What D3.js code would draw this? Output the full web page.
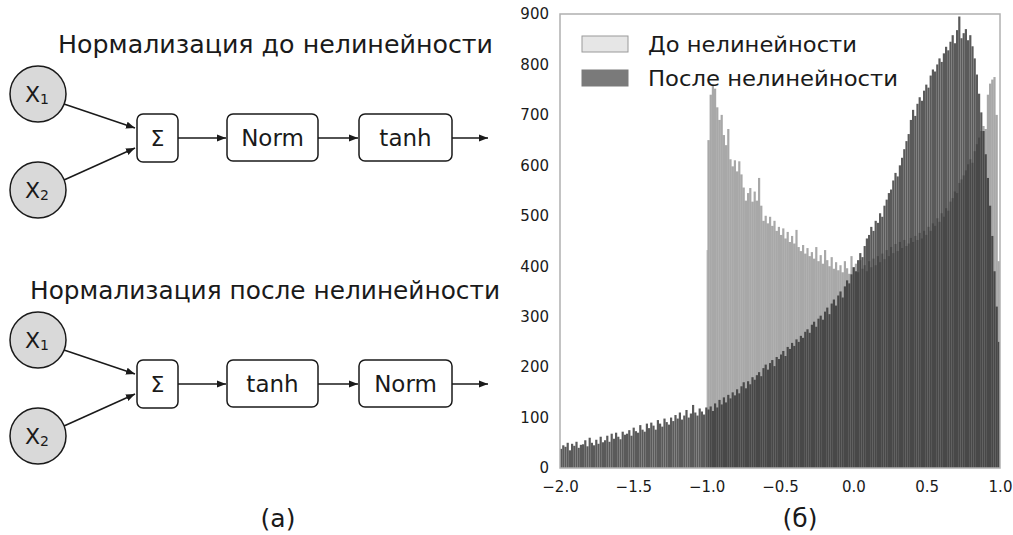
<!DOCTYPE html>
<html>
<head>
<meta charset="utf-8">
<script src="https://cdn.jsdelivr.net/npm/d3@7.9.0/dist/d3.min.js"></script>
<style>
  body { margin: 0; background: #fff; }
  svg { display: block; }
  text { font-family: "DejaVu Sans", sans-serif; fill: #1a1a1a; }
</style>
</head>
<body>
<svg id="chart" width="1013" height="535"></svg>
<script>
// histogram bins: width 0.015 from -2.0 to 1.0 (200 bins)
const binWidth = 0.015;
const binStart = -2.0;
const beforeFirstBin = 66; // "before" series starts at -1.0

// после нелинейности (dark), 200 bins
const afterCounts = [
  38, 45, 42, 50, 35, 48, 44, 52, 40, 46,
  47, 55, 43, 60, 50, 45, 56, 48, 62, 51,
  55, 64, 52, 68, 58, 70, 62, 57, 72, 66,
  68, 75, 64, 80, 73, 70, 85, 76, 72, 88,
  79, 90, 84, 76, 95, 88, 82, 98, 91, 86,
  100, 93, 105, 98, 110, 96, 104, 115, 100, 108,
  125, 110, 104, 118, 112, 106, 120, 116, 122, 113,
  128, 120, 135, 126, 140, 130, 145, 138, 150, 144,
  156, 148, 162, 170, 158, 172, 166, 180, 175, 184,
  190, 182, 198, 205, 195, 208, 214, 202, 220, 216,
  225, 232, 222, 240, 236, 248, 242, 255, 250, 262,
  258, 270, 275, 268, 284, 290, 280, 296, 302, 294,
  310, 318, 305, 326, 334, 322, 342, 350, 338, 360,
  372, 366, 384, 398, 390, 412, 426, 418, 440, 455,
  462, 478, 470, 490, 486, 505, 498, 520, 532, 545,
  552, 570, 585, 578, 600, 615, 632, 648, 662, 690,
  710, 698, 722, 735, 728, 748, 760, 754, 778, 790,
  786, 800, 812, 805, 822, 835, 828, 845, 858, 842,
  868, 895, 852, 862, 870, 848, 858, 836, 812, 780,
  742, 705, 668, 622, 575, 520, 460, 390, 320, 250
];

// до нелинейности (light), bins 66..199
const beforeCounts = [
  432, 650, 740, 760, 752, 715, 690, 700, 660, 640,
  672, 612, 598, 610, 588, 608, 582, 556, 530, 545,
  555, 528, 548, 530, 575, 520, 490, 500, 485, 498,
  480, 490, 470, 478, 462, 475, 455, 468, 448, 460,
  445, 472, 438, 430, 442, 425, 436, 420, 428, 415,
  438, 410, 422, 405, 432, 412, 400, 418, 395, 408,
  392, 402, 388, 410, 396, 385, 420, 398, 405, 388,
  412, 395, 402, 390, 410, 398, 415, 402, 420, 408,
  425, 414, 432, 420, 438, 426, 444, 430, 448, 436,
  452, 440, 445, 456, 448, 460, 452, 466, 455, 470,
  462, 478, 470, 485, 480, 495, 488, 505, 498, 515,
  510, 528, 535, 548, 545, 565, 572, 580, 590, 602,
  612, 605, 628, 642, 655, 668, 678, 672, 740, 762,
  770, 775, 700, 410
];

const xTicks = [-2.0, -1.5, -1.0, -0.5, 0.0, 0.5, 1.0];
const yTicks = [0, 100, 200, 300, 400, 500, 600, 700, 800, 900];
const legendLabels = ["До нелинейности", "После нелинейности"];
const legendWidths = [209, 250];

const svg = d3.select("#chart");

// ---------- histogram (б) ----------
const x = d3.scaleLinear().domain([-2, 1]).range([560, 1000]);
const y = d3.scaleLinear().domain([0, 900]).range([468, 14]);

const afterBins = afterCounts.map((c, i) => ({ x0: binStart + i * binWidth, c }));
const beforeBins = beforeCounts.map((c, i) => ({ x0: binStart + (beforeFirstBin + i) * binWidth, c }));

svg.append("g").selectAll("rect")
  .data(afterBins)
  .join("rect")
  .attr("x", d => x(d.x0))
  .attr("width", d => x(d.x0 + binWidth) - x(d.x0))
  .attr("y", d => y(d.c))
  .attr("height", d => y(0) - y(d.c))
  .attr("fill", "#5a5a5a");

svg.append("g").selectAll("rect")
  .data(beforeBins)
  .join("rect")
  .attr("x", d => Math.max(x(d.x0), x(-1)))
  .attr("width", d => x(d.x0 + binWidth) - Math.max(x(d.x0), x(-1)))
  .attr("y", d => y(d.c))
  .attr("height", d => y(0) - y(d.c))
  .attr("fill", "#303030")
  .attr("fill-opacity", 0.42);

// frame
svg.append("rect")
  .attr("x", x(-2)).attr("y", y(900))
  .attr("width", x(1) - x(-2)).attr("height", y(0) - y(900))
  .attr("fill", "none").attr("stroke", "#b0b0b0").attr("stroke-width", 1.5);

const fmt = d => d3.format(".1f")(d).replace("-", "−");

svg.append("g")
  .attr("transform", `translate(0,${y(0)})`)
  .call(d3.axisBottom(x).tickValues(xTicks).tickFormat(fmt).tickSize(0).tickPadding(13))
  .call(g => g.select(".domain").remove())
  .selectAll("text")
  .style("font-family", "DejaVu Sans").style("font-size", "15px").attr("fill", "#222");

svg.append("g")
  .attr("transform", `translate(${x(-2)},0)`)
  .call(d3.axisLeft(y).tickValues(yTicks).tickSize(0).tickPadding(11))
  .call(g => g.select(".domain").remove())
  .selectAll("text")
  .style("font-family", "DejaVu Sans").style("font-size", "15px").attr("fill", "#222");

// legend
const legend = svg.append("g").attr("transform", "translate(582,36)");
legendLabels.forEach((label, i) => {
  legend.append("rect")
    .attr("x", 0).attr("y", i * 34)
    .attr("width", 46).attr("height", 16)
    .attr("fill", i === 0 ? "#e6e6e6" : "#7a7a7a")
    .attr("stroke", i === 0 ? "#9a9a9a" : "#7a7a7a");
  legend.append("text")
    .attr("x", 66).attr("y", i * 34 + 16)
    .style("font-size", "22px")
    .attr("textLength", legendWidths[i])
    .attr("lengthAdjust", "spacingAndGlyphs")
    .text(label);
});

svg.append("text").attr("x", 800).attr("y", 527)
  .attr("text-anchor", "middle").style("font-size", "25px").text("(б)");

// ---------- diagrams (а) ----------
const defs = svg.append("defs");
defs.append("marker")
  .attr("id", "arr").attr("viewBox", "0 0 10 10")
  .attr("refX", 10).attr("refY", 5)
  .attr("markerWidth", 9).attr("markerHeight", 9)
  .attr("markerUnits", "userSpaceOnUse")
  .attr("orient", "auto")
  .append("path").attr("d", "M0,1 L10,5 L0,9 Z").attr("fill", "#1a1a1a");

function arrow(g, x1, y1, x2, y2) {
  g.append("line")
    .attr("x1", x1).attr("y1", y1).attr("x2", x2).attr("y2", y2)
    .attr("stroke", "#1a1a1a").attr("stroke-width", 1.5)
    .attr("marker-end", "url(#arr)");
}

function box(g, x0, y0, w, h, label, size) {
  g.append("rect")
    .attr("x", x0).attr("y", y0).attr("width", w).attr("height", h)
    .attr("rx", 6).attr("fill", "#fff")
    .attr("stroke", "#1a1a1a").attr("stroke-width", 1.5);
  g.append("text")
    .attr("x", x0 + w / 2).attr("y", y0 + h / 2 + size * 0.36)
    .attr("text-anchor", "middle").style("font-size", size + "px")
    .text(label);
}

function node(g, cx, cy, sub) {
  g.append("circle").attr("cx", cx).attr("cy", cy).attr("r", 28)
    .attr("fill", "#d9d9d9").attr("stroke", "#1a1a1a").attr("stroke-width", 1.5);
  const t = g.append("text").attr("x", cx - 13).attr("y", cy + 8).style("font-size", "22px");
  t.append("tspan").text("X");
  t.append("tspan").attr("dy", 2).style("font-size", "14px").text(sub);
}

function diagram(top, title, titleX, titleW, first, second) {
  const g = svg.append("g").attr("transform", `translate(0,${top})`);
  g.append("text").attr("x", titleX).attr("y", 0)
    .style("font-size", "25px")
    .attr("textLength", titleW).attr("lengthAdjust", "spacingAndGlyphs")
    .text(title);
  node(g, 38, 41, "1");
  node(g, 38, 137, "2");
  arrow(g, 64, 51, 135, 75);
  arrow(g, 64, 127, 135, 95);
  box(g, 137, 61, 41, 48, "Σ", 22);
  arrow(g, 178, 85, 226, 85);
  box(g, 227, 61, 91, 47, first, 23);
  arrow(g, 318, 85, 358, 85);
  box(g, 359, 61, 93, 47, second, 23);
  arrow(g, 452, 85, 488, 85);
}

diagram(53, "Нормализация до нелинейности", 58, 435, "Norm", "tanh");
diagram(299, "Нормализация после нелинейности", 30, 470, "tanh", "Norm");

svg.append("text").attr("x", 278).attr("y", 527)
  .attr("text-anchor", "middle").style("font-size", "25px").text("(а)");
</script>
</body>
</html>
